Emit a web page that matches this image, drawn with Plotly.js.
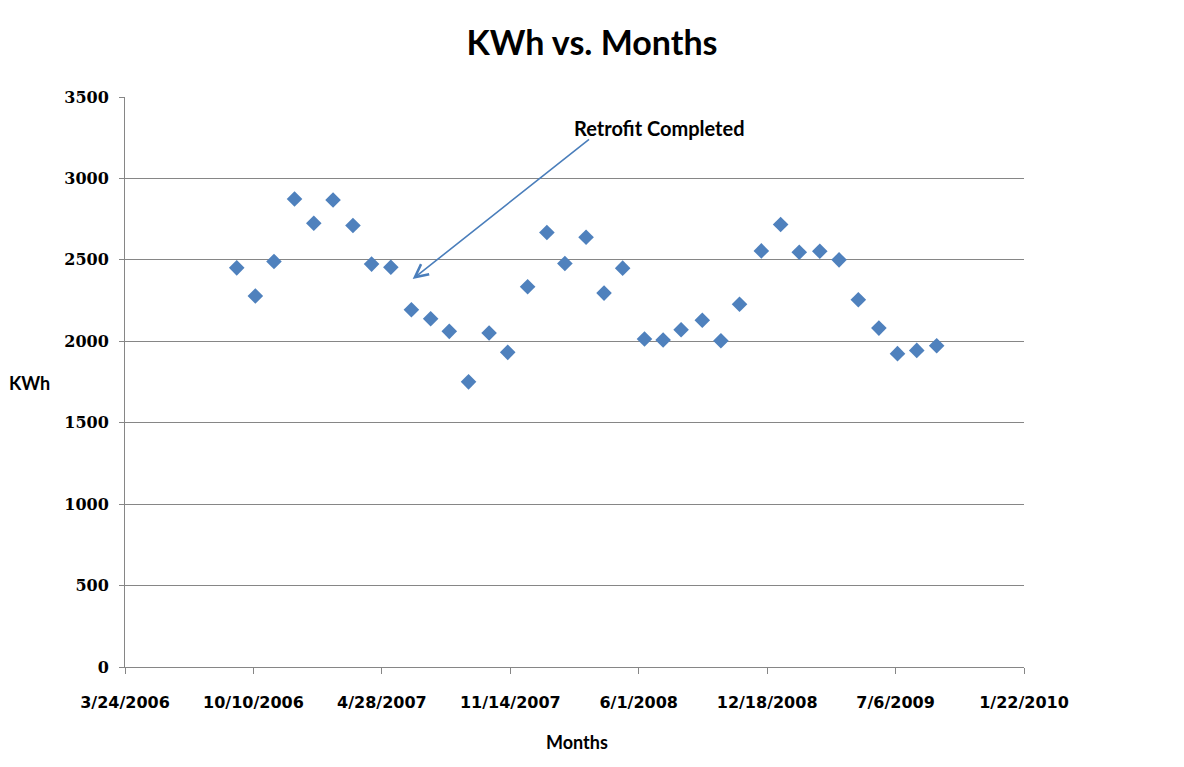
<!DOCTYPE html>
<html>
<head>
<meta charset="utf-8">
<script src="https://cdn.plot.ly/plotly-3.0.1.min.js"></script>
<style>html,body{margin:0;padding:0;background:#fff;}#chart{width:1184px;height:767px;}</style>
</head>
<body>
<div id="chart"></div>
<script>
// Reading dates
const readingDates = [
  '2006-09-14','2006-10-13','2006-11-11','2006-12-13','2007-01-12','2007-02-11','2007-03-14',
  '2007-04-12','2007-05-12','2007-06-13','2007-07-13','2007-08-11','2007-09-10','2007-10-12',
  '2007-11-10','2007-12-11','2008-01-10','2008-02-07','2008-03-11','2008-04-08','2008-05-07',
  '2008-06-10','2008-07-09','2008-08-06','2008-09-08','2008-10-07','2008-11-05','2008-12-09',
  '2009-01-08','2009-02-06','2009-03-10','2009-04-09','2009-05-09','2009-06-10','2009-07-09',
  '2009-08-08','2009-09-08'
];
// KWh values
const kwhValues = [
  2451, 2278, 2490, 2874, 2725, 2868, 2711,
  2474, 2455, 2194, 2138, 2061, 1751, 2051,
  1932, 2335, 2668, 2478, 2639, 2296, 2449,
  2014, 2008, 2071, 2129, 2003, 2227, 2555,
  2717, 2547, 2553, 2500, 2255, 2081, 1924,
  1944, 1973
];
// X tick values and labels
const xTickVals = ['2006-03-24','2006-10-10','2007-04-28','2007-11-14','2008-06-01','2008-12-18','2009-07-06','2010-01-22'];
const xTickText = ['3/24/2006','10/10/2006','4/28/2007','11/14/2007','6/1/2008','12/18/2008','7/6/2009','1/22/2010'];
const yTickVals = [0, 500, 1000, 1500, 2000, 2500, 3000, 3500];

const trace = {
  type: 'scatter',
  mode: 'markers',
  x: readingDates,
  y: kwhValues,
  marker: {symbol: 'diamond', size: 12, color: '#4f81bd', line: {width: 0}},
  showlegend: false,
  hoverinfo: 'x+y'
};

const grey = '#868686';
const layout = {
  width: 1184,
  height: 767,
  paper_bgcolor: '#ffffff',
  plot_bgcolor: '#ffffff',
  margin: {l: 125, r: 160, t: 97, b: 100},
  showlegend: false,
  title: {
    text: 'KWh vs. Months',
    x: 0.5, xref: 'container', xanchor: 'center',
    y: 0.944, yref: 'container', yanchor: 'middle',
    font: {family: 'Lato, sans-serif', size: 34, color: '#000000', weight: 'bold'}
  },
  xaxis: {
    type: 'date',
    range: [xTickVals[0], xTickVals[xTickVals.length - 1]],
    tickmode: 'array',
    tickvals: xTickVals,
    ticktext: xTickText,
    showgrid: false,
    zeroline: false,
    showline: true,
    linecolor: grey,
    linewidth: 1,
    ticks: 'outside',
    ticklen: 6,
    tickcolor: grey,
    ticklabelstandoff: 15,
    tickfont: {family: 'DejaVu Sans, sans-serif', size: 16, color: '#000000', weight: 'bold'},
    fixedrange: true
  },
  yaxis: {
    range: [0, 3500],
    tickmode: 'array',
    tickvals: yTickVals,
    showgrid: true,
    gridcolor: grey,
    gridwidth: 1,
    zeroline: false,
    showline: true,
    linecolor: grey,
    linewidth: 1,
    ticks: 'outside',
    ticklen: 5,
    tickcolor: grey,
    ticklabelstandoff: 7,
    tickfont: {family: 'DejaVu Serif, serif', size: 16, color: '#000000', weight: 'bold'},
    fixedrange: true
  },
  annotations: [
    {
      text: 'KWh', xref: 'paper', yref: 'paper', x: -0.106, y: 0.498,
      xanchor: 'center', yanchor: 'middle', showarrow: false,
      font: {family: 'Lato, sans-serif', size: 18, color: '#000000', weight: 'bold'}
    },
    {
      text: 'Months', xref: 'paper', yref: 'paper', x: 0.503, y: -0.132,
      xanchor: 'center', yanchor: 'middle', showarrow: false,
      font: {family: 'Lato, sans-serif', size: 18, color: '#000000', weight: 'bold'}
    },
    {
      text: 'Retrofit Completed', xref: 'paper', yref: 'paper', x: 0.595, y: 0.945,
      xanchor: 'center', yanchor: 'middle', showarrow: false,
      font: {family: 'Lato, sans-serif', size: 20, color: '#000000', weight: 'bold'}
    },
    {
      text: '', xref: 'x', yref: 'y', x: '2007-06-15', y: 2382,
      axref: 'x', ayref: 'y', ax: '2008-03-18', ay: 3247,
      showarrow: true, arrowhead: 5, arrowsize: 1.6, arrowwidth: 1.6, arrowcolor: '#4a7ebb',
      standoff: 0, startstandoff: 0
    }
  ]
};

Plotly.newPlot('chart', [trace], layout, {displayModeBar: false, staticPlot: true});
</script>
</body>
</html>
